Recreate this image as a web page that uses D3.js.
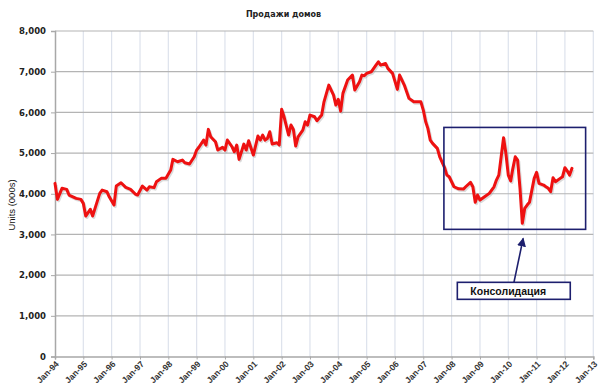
<!DOCTYPE html>
<html>
<head>
<meta charset="utf-8">
<script src="https://cdn.jsdelivr.net/npm/d3@7"></script>
<style>
  html, body { margin: 0; padding: 0; background: #fff; }
  svg { display: block; }
</style>
</head>
<body>
<svg id="chart" width="609" height="391"></svg>
<script>
// ---- Data ----
const title = "Продажи домов";
const yAxisTitle = "Units (000s)";
const yTicks = [0, 1000, 2000, 3000, 4000, 5000, 6000, 7000, 8000];
const xTickYears = d3.range(1994, 2014);
const months = [
  "1994-01","1994-02","1994-04","1994-06","1994-07","1994-10","1994-12",
  "1995-01","1995-02","1995-04","1995-05","1995-06","1995-08","1995-09","1995-11","1995-12",
  "1996-02","1996-03","1996-05","1996-07","1996-09","1996-11","1996-12",
  "1997-02","1997-04","1997-05","1997-07","1997-08","1997-10","1997-12",
  "1998-02","1998-03","1998-05","1998-07","1998-08","1998-10","1998-12",
  "1999-01","1999-02","1999-04","1999-05","1999-06","1999-07","1999-09","1999-10","1999-12",
  "2000-01","2000-02","2000-04","2000-05","2000-06","2000-07","2000-09","2000-10","2000-11",
  "2001-01","2001-02","2001-03","2001-04","2001-05","2001-06","2001-07","2001-08","2001-09","2001-11","2001-12",
  "2002-01","2002-02","2002-04","2002-05","2002-06","2002-07","2002-08","2002-10","2002-11","2002-12",
  "2003-01","2003-03","2003-04","2003-06","2003-07","2003-09","2003-11","2003-12",
  "2004-01","2004-02","2004-03","2004-05","2004-07","2004-08","2004-10","2004-11","2004-12",
  "2005-01","2005-03","2005-05","2005-06","2005-07","2005-09","2005-10","2005-12",
  "2006-02","2006-03","2006-04","2006-05","2006-07","2006-09","2006-12",
  "2007-01","2007-02","2007-03","2007-04","2007-05","2007-07","2007-08","2007-10","2007-11","2007-12",
  "2008-02","2008-04","2008-06","2008-07","2008-09","2008-10","2008-11","2008-12",
  "2009-01","2009-03","2009-05","2009-07","2009-08","2009-09","2009-10","2009-11","2009-12",
  "2010-01","2010-02","2010-03","2010-04","2010-05","2010-06","2010-07","2010-08","2010-09","2010-10","2010-12",
  "2011-01","2011-02","2011-04","2011-05","2011-06","2011-07","2011-08","2011-09","2011-11","2011-12",
  "2012-01","2012-02","2012-03","2012-04"
];
const sales = [
  4255,3862,4133,4108,3968,3887,3862,
  3764,3452,3617,3452,3641,4010,4091,4050,3926,
  3722,4189,4270,4157,4108,3993,3968,
  4189,4091,4172,4150,4295,4378,4378,
  4582,4845,4786,4828,4762,4730,4909,
  5074,5150,5319,5197,5582,5400,5278,5074,5140,
  5074,5319,5155,5032,5197,4845,5221,5074,5302,
  4951,5197,5418,5319,5442,5319,5360,5524,5221,5253,5197,
  6074,5892,5442,5688,5582,5172,5400,5565,5769,5688,
  5934,5892,5794,5934,6260,6671,6425,6179,
  6319,6030,6467,6794,6916,6548,6752,6916,6900,
  6958,6998,7162,7243,7162,7203,7081,6958,
  6565,6916,6794,6671,6344,6260,6260,
  6057,5769,5607,5319,5238,5115,4909,4650,4459,4418,
  4172,4120,4115,4172,4280,4172,3789,3968,
  3845,3926,4010,4172,4337,4459,4909,5376,4993,
  4459,4312,4624,4909,4828,4133,3273,3641,3722,3789,4378,
  4526,4255,4214,4172,4133,4050,4394,4295,4378,4418,
  4639,4558,4459,4624
];
// Annotation (in data units)
const consolidationBox = { from: "2007-09-24", to: "2012-09-24", top: 5630, bottom: 3125 };
const labelBox = { from: "2008-03-15", to: "2012-03-10", top: 1823, bottom: 1405, text: "Консолидация" };
const arrow = { from: ["2010-03-15", 1823], to: ["2010-07-12", 2904] };

// ---- Layout ----
const svg = d3.select("#chart");
const parse = d3.timeParse("%Y-%m");
const parseDay = d3.timeParse("%Y-%m-%d");
const data = months.map((m, i) => ({ date: parse(m), value: sales[i] }));

const x = d3.scaleTime()
  .domain([new Date(1994, 0, 1), new Date(2013, 0, 1)])
  .range([55, 593.3]);
const y = d3.scaleLinear().domain([0, 8000]).range([356.5, 31]);

const navy = "#1d1f6e";

// gridlines
svg.append("g").selectAll("line.v")
  .data(xTickYears.slice(1))
  .join("line")
  .attr("x1", d => x(new Date(d, 0, 1))).attr("x2", d => x(new Date(d, 0, 1)))
  .attr("y1", y(8000)).attr("y2", y(0))
  .attr("stroke", "#dde2ec").attr("stroke-width", 1.2);

svg.append("g").selectAll("line.h")
  .data(yTicks.slice(1))
  .join("line")
  .attr("x1", x.range()[0]).attr("x2", x.range()[1])
  .attr("y1", d => y(d)).attr("y2", d => y(d))
  .attr("stroke", "#b4b4b4").attr("stroke-width", 1.2);

// axes
const yAxis = d3.axisLeft(y).tickValues(yTicks).tickFormat(d3.format(",")).tickSize(4).tickPadding(5);
const gy = svg.append("g").attr("transform", `translate(${x.range()[0]},0)`).call(yAxis);
gy.select(".domain").attr("stroke", "#a8a8a8").attr("stroke-width", 1.5);
gy.selectAll(".tick line").attr("stroke", "#a8a8a8");
gy.selectAll("text")
  .attr("font-family", "DejaVu Sans, sans-serif")
  .attr("font-weight", "bold")
  .attr("font-size", 8.5)
  .attr("fill", "#222");

const xAxis = d3.axisBottom(x)
  .tickValues(xTickYears.map(yr => new Date(yr, 0, 1)))
  .tickFormat(d3.timeFormat("Jan-%y"))
  .tickSize(3);
const gx = svg.append("g").attr("transform", `translate(0,${y(0)})`).call(xAxis);
gx.select(".domain").attr("stroke", "#a8a8a8").attr("stroke-width", 1.5);
gx.selectAll(".tick line").attr("stroke", "#a8a8a8");
gx.selectAll("text")
  .attr("font-family", "Liberation Sans, Arial, sans-serif")
  .attr("font-weight", "bold")
  .attr("font-size", 8.6)
  .attr("fill", "#333")
  .attr("text-anchor", "end")
  .attr("dy", null)
  .attr("y", 0)
  .attr("transform", "translate(4,8) rotate(-45)");

// title
svg.append("text")
  .attr("x", 283.5).attr("y", 17)
  .attr("text-anchor", "middle")
  .attr("font-family", "DejaVu Sans, sans-serif")
  .attr("font-weight", "bold")
  .attr("font-size", 8)
  .attr("fill", "#222")
  .text(title);

// y axis title
svg.append("text")
  .attr("transform", "translate(15,205) rotate(-90)")
  .attr("text-anchor", "middle")
  .attr("font-family", "Liberation Sans, Arial, sans-serif")
  .attr("font-size", 9.5)
  .attr("fill", "#111")
  .text(yAxisTitle);

// line
const line = d3.line().x(d => x(d.date)).y(d => y(d.value)).curve(d3.curveLinear);
svg.append("path")
  .datum(data)
  .attr("d", line)
  .attr("transform", "translate(1.2,1.5)")
  .attr("fill", "none")
  .attr("stroke", "#999")
  .attr("stroke-opacity", 0.35)
  .attr("stroke-width", 3)
  .attr("stroke-linejoin", "round");
svg.append("path")
  .datum(data)
  .attr("d", line)
  .attr("fill", "none")
  .attr("stroke", "#ee1111")
  .attr("stroke-width", 3)
  .attr("stroke-linejoin", "round")
  .attr("stroke-linecap", "round");

// consolidation box
svg.append("rect")
  .attr("x", x(parseDay(consolidationBox.from)))
  .attr("y", y(consolidationBox.top))
  .attr("width", x(parseDay(consolidationBox.to)) - x(parseDay(consolidationBox.from)))
  .attr("height", y(consolidationBox.bottom) - y(consolidationBox.top))
  .attr("fill", "none")
  .attr("stroke", navy)
  .attr("stroke-width", 1.6);

// arrow
const defs = svg.append("defs");
defs.append("marker")
  .attr("id", "ah")
  .attr("viewBox", "0 0 10 10")
  .attr("refX", 9).attr("refY", 5)
  .attr("markerWidth", 9).attr("markerHeight", 9)
  .attr("markerUnits", "userSpaceOnUse")
  .attr("orient", "auto")
  .append("path").attr("d", "M0,0 L10,5 L0,10 z").attr("fill", navy);

svg.append("line")
  .attr("x1", x(parseDay(arrow.from[0]))).attr("y1", y(arrow.from[1]))
  .attr("x2", x(parseDay(arrow.to[0]))).attr("y2", y(arrow.to[1]))
  .attr("stroke", navy).attr("stroke-width", 1.6)
  .attr("marker-end", "url(#ah)");

// label box
const lx0 = x(parseDay(labelBox.from)), lx1 = x(parseDay(labelBox.to));
svg.append("rect")
  .attr("x", lx0).attr("y", y(labelBox.top))
  .attr("width", lx1 - lx0)
  .attr("height", y(labelBox.bottom) - y(labelBox.top))
  .attr("fill", "#fff")
  .attr("stroke", navy)
  .attr("stroke-width", 1.6);
svg.append("text")
  .attr("x", lx0 + 13).attr("y", y(labelBox.bottom) - 4)
  .attr("font-family", "Liberation Sans, Arial, sans-serif")
  .attr("font-weight", "bold")
  .attr("font-size", 10.5)
  .attr("fill", "#111")
  .text(labelBox.text);
</script>
</body>
</html>
